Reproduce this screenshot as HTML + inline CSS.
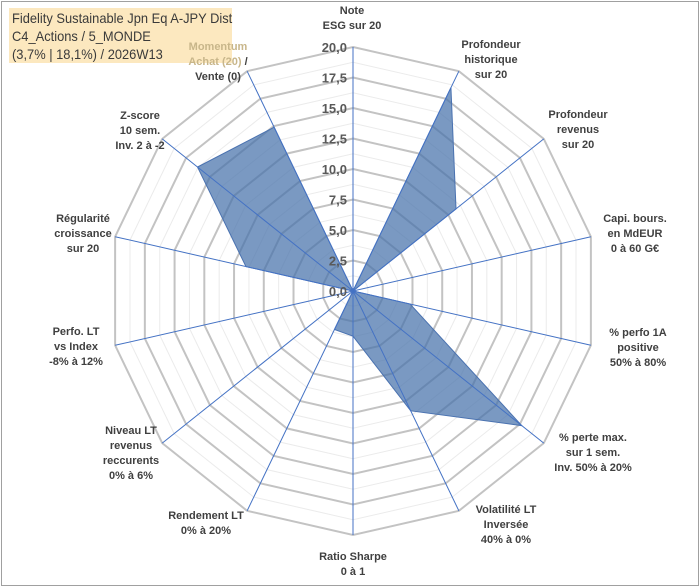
<!DOCTYPE html>
<html><head><meta charset="utf-8"><style>
body{margin:0;background:#fff;}
#wrap{position:relative;width:700px;height:587px;overflow:hidden;font-family:"Liberation Sans",Arial,sans-serif;}
#frame{position:absolute;left:1px;top:1px;width:696px;height:583px;border:1px solid #a0a0a0;}
#title{position:absolute;left:9px;top:8px;width:223px;height:55px;background:#fce8bf;color:#3a3a3a;font-size:14px;line-height:18px;padding-left:3px;padding-top:1px;box-sizing:border-box;white-space:nowrap;}
#title span{display:inline-block;transform:scaleX(0.92);transform-origin:left center;}
.lbl{position:absolute;font-size:11px;font-weight:bold;color:#404040;text-align:center;line-height:15px;white-space:nowrap;transform:translateX(-50%);}
</style></head><body>
<div id="wrap">
<div id="frame"></div>
<svg id="svg" width="700" height="587" style="position:absolute;left:0;top:0"></svg>
<div id="title"><span>Fidelity Sustainable Jpn Eq A-JPY Dist</span><br><span>C4_Actions / 5_MONDE</span><br><span>(3,7% | 18,1%) / 2026W13</span></div>
<div class="lbl" style="left:218px;top:40px"><span style="color:#c8b68a">Momentum<br>Achat (20)</span> /<br>Vente (0)</div>
<div class="lbl" style="left:352px;top:4px">Note<br>ESG sur 20</div>
<div class="lbl" style="left:491px;top:38px">Profondeur<br>historique<br>sur 20</div>
<div class="lbl" style="left:578px;top:108px">Profondeur<br>revenus<br>sur 20</div>
<div class="lbl" style="left:635px;top:212px">Capi. bours.<br>en MdEUR<br>0 à 60 G€</div>
<div class="lbl" style="left:638px;top:326px">% perfo 1A<br>positive<br>50% à 80%</div>
<div class="lbl" style="left:593px;top:431px">% perte max.<br>sur 1 sem.<br>Inv. 50% à 20%</div>
<div class="lbl" style="left:506px;top:503px">Volatilité LT<br>Inversée<br>40% à 0%</div>
<div class="lbl" style="left:353px;top:550px">Ratio Sharpe<br>0 à 1</div>
<div class="lbl" style="left:206px;top:509px">Rendement LT<br>0% à 20%</div>
<div class="lbl" style="left:131px;top:424px">Niveau LT<br>revenus<br>reccurents<br>0% à 6%</div>
<div class="lbl" style="left:76px;top:325px">Perfo. LT<br>vs Index<br>-8% à 12%</div>
<div class="lbl" style="left:83px;top:212px">Régularité<br>croissance<br>sur 20</div>
<div class="lbl" style="left:140px;top:109px">Z-score<br>10 sem.<br>Inv. 2 à -2</div>
</div>
<script>
const categories=["Note ESG","Profondeur historique","Profondeur revenus","Capi. bours.","% perfo 1A","% perte max.","Volatilité LT","Ratio Sharpe","Rendement LT","Niveau LT revenus","Perfo. LT vs Index","Régularité croissance","Z-score","Momentum"];
const values=[0,18.5,10.8,0,4.8,17.7,10.9,3.7,3.5,0,0,9,16.3,14.9];
const tickLabels=["0,0","2,5","5,0","7,5","10,0","12,5","15,0","17,5","20,0"];
const tickValues=[0,2.5,5,7.5,10,12.5,15,17.5,20];
const CX=353,CY=291,R=244,MAX=20,N=categories.length;
const svg=document.getElementById('svg');
const NS="http://www.w3.org/2000/svg";
function pt(i,v){const a=i*2*Math.PI/N;const r=v/MAX*R;return [CX+r*Math.sin(a),CY-r*Math.cos(a)];}
function mk(t,attrs){const e=document.createElementNS(NS,t);for(const k in attrs)e.setAttribute(k,attrs[k]);svg.appendChild(e);return e;}
for(let v=1.25;v<=20;v+=2.5){const p=[];for(let i=0;i<N;i++)p.push(pt(i,v).join(','));
const e=mk('polygon',{points:p.join(' '),fill:'none',stroke:'#ebebeb','stroke-width':1});

}
tickValues.forEach(v=>{if(v===0)return;const p=[];for(let i=0;i<N;i++)p.push(pt(i,v).join(','));
const e=mk('polygon',{points:p.join(' '),fill:'none',stroke:'#c3c3c3','stroke-width':2});

});
const sp=values.map((v,i)=>pt(i,v).join(','));
const poly=mk('polygon',{points:sp.join(' '),fill:'rgba(70,114,170,0.72)',stroke:'#4a72b0','stroke-width':1});


for(let i=0;i<N;i++){const [x,y]=pt(i,MAX);
const l=mk('line',{x1:CX,y1:CY,x2:x,y2:y,stroke:'#4472c4','stroke-width':1});

}
tickValues.forEach((v,k)=>{const [x,y]=pt(0,v);
const t=mk('text',{x:x-6,y:y+5,'text-anchor':'end','font-size':13,'font-weight':'bold',fill:'#595959','font-family':'Liberation Sans, sans-serif'});
t.textContent=tickLabels[k];

});
</script>
</body></html>
